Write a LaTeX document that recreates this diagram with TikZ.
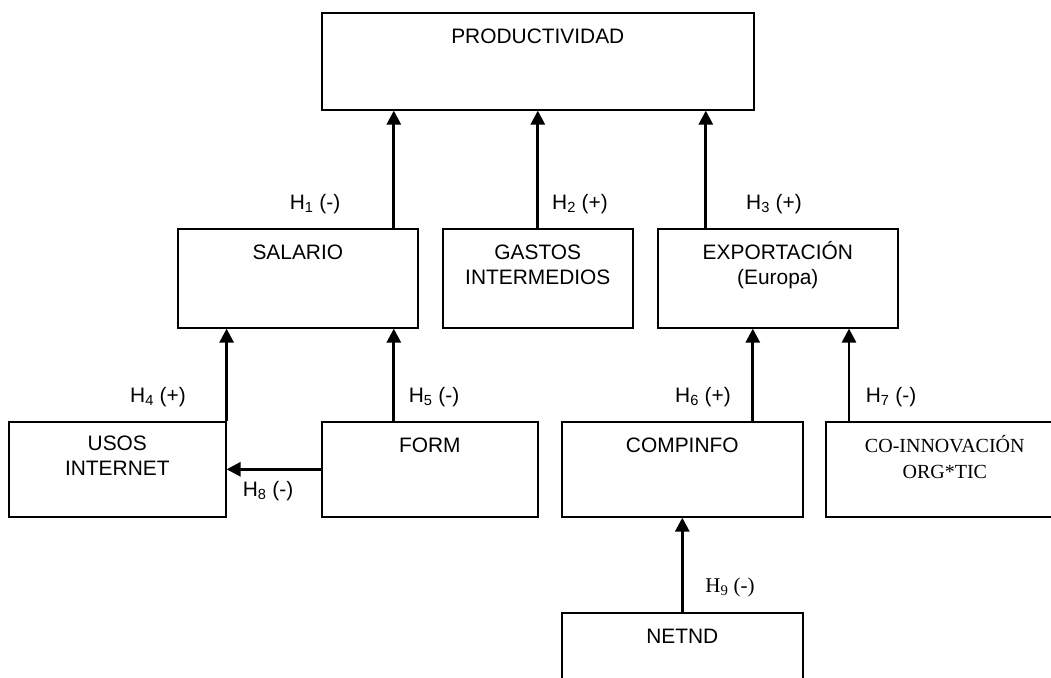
\documentclass[tikz,border=0pt]{standalone}
\usepackage{fontspec}
\setmainfont{Liberation Serif}
\setsansfont{Liberation Sans}
\usepackage{tikz}
\usetikzlibrary{arrows.meta,calc}

\begin{document}
\begin{tikzpicture}[x=1pt,y=-1pt,
  box/.style={draw,line width=1.6pt,inner sep=0pt,align=center,anchor=north west,
    font=\sffamily\fontsize{20.9}{25}\selectfont,text height=31pt},
  arr/.style={-{Triangle[length=14pt,width=14pt]},line width=2.8pt},
  hlbl/.style={inner sep=0pt,font=\sffamily\fontsize{20.9}{25}\selectfont}]
  \clip (0,0) rectangle (1051,677);
  % cajas
  \node[box,minimum width=432pt,text depth=66pt] (prod) at (321,12) {PRODUCTIVIDAD};
  \node[box,minimum width=240pt,text depth=68pt] (sal) at (177,228) {SALARIO};
  \node[box,minimum width=190pt,text height=56pt,text depth=43pt] (gas) at (442,228) {GASTOS\\INTERMEDIOS};
  \node[box,minimum width=240pt,text height=56pt,text depth=43pt] (exp) at (657,228) {EXPORTACIÓN\\(Europa)};
  \node[box,minimum width=217pt,text height=54pt,text depth=41pt] (usos) at (8,421) {USOS\\INTERNET};
  \node[box,minimum width=216pt,text depth=64pt] (form) at (321,421) {FORM};
  \node[box,minimum width=241pt,text depth=64pt] (comp) at (561,421) {COMPINFO};
  \node[box,minimum width=238pt,text height=57pt,text depth=38pt,
    font=\rmfamily\fontsize{20}{26}\selectfont] (coin) at (825,421) {CO-INNOVACIÓN\\ORG*TIC};
  \node[box,minimum width=241pt,text depth=69pt] (net) at (561,612) {NETND};
  % flechas
  \draw[arr] ([xshift=96pt]sal.north) -- ([xshift=96pt]sal.north |- prod.south);
  \draw[arr] (gas.north) -- (gas.north |- prod.south);
  \draw[arr] ([xshift=-72pt]exp.north) -- ([xshift=-72pt]exp.north |- prod.south);
  \draw[arr] (usos.north east) -- (usos.north east |- sal.south);
  \draw[arr] ([xshift=-36pt]form.north) -- ([xshift=-36pt]form.north |- sal.south);
  \draw[arr] ([xshift=70.5pt]comp.north) -- ([xshift=70.5pt]comp.north |- exp.south);
  \draw[arr] ([xshift=24pt]coin.north west) -- ([xshift=24pt]coin.north west |- exp.south);
  \draw[arr] (form.west) -- (form.west -| usos.east);
  \draw[arr] (net.north) -- (net.north |- comp.south);
  % hipotesis
  \node[hlbl] (h1) at (315,204) {H\textsubscript{1} (-)};
  \node[hlbl] (h2) at (580,204) {H\textsubscript{2} (+)};
  \node[hlbl] (h3) at (774,204) {H\textsubscript{3} (+)};
  \node[hlbl] (h4) at (158,397) {H\textsubscript{4} (+)};
  \node[hlbl] (h5) at (434,397) {H\textsubscript{5} (-)};
  \node[hlbl] (h6) at (703,397) {H\textsubscript{6} (+)};
  \node[hlbl] (h7) at (891,397) {H\textsubscript{7} (-)};
  \node[hlbl] (h8) at (268,491) {H\textsubscript{8} (-)};
  \node[hlbl,font=\rmfamily\fontsize{21}{25}\selectfont] (h9) at (730,587) {H\textsubscript{9} (-)};
\end{tikzpicture}
\end{document}
